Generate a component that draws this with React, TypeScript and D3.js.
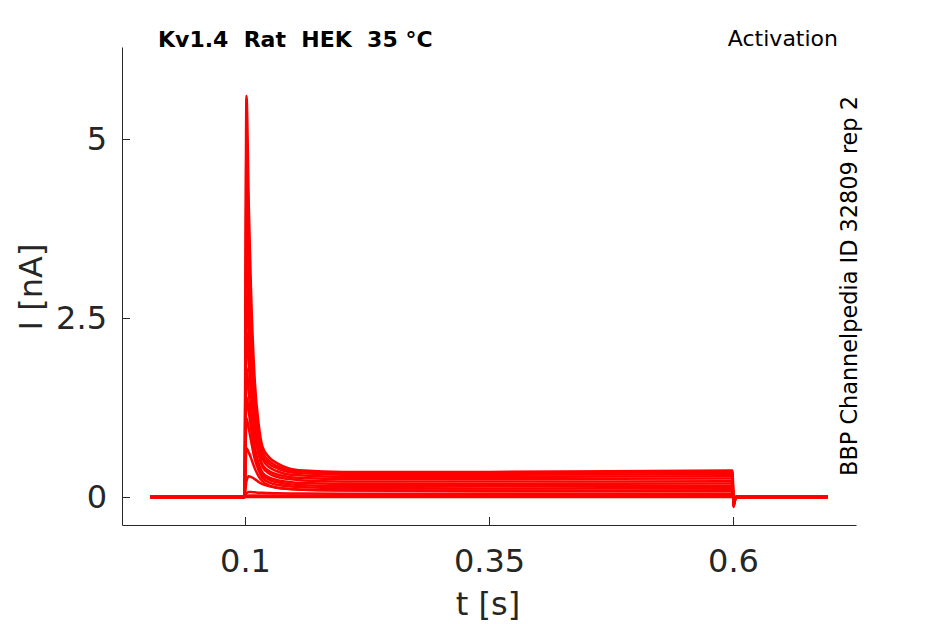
import { useRef, useEffect } from "react";
import * as d3 from "d3";

const width = 945;
const height = 624;

// sample times (s) shared by every sweep
const TIMES = [
  0.003, 0.0995, 0.1015, 0.104, 0.106, 0.11, 0.114, 0.118, 0.125, 0.133,
  0.145, 0.16, 0.2, 0.35, 0.5995, 0.6005, 0.603, 0.697,
];

// current (nA) of each sweep at TIMES
const SWEEP_1 = [0, 0, 5.6, 4.02, 2.97, 1.63, 1.02, 0.7, 0.55, 0.47, 0.4, 0.37, 0.35, 0.35, 0.37, -0.14, 0, 0];
const SWEEP_2 = [0, 0, 4.9, 3.53, 2.61, 1.44, 0.92, 0.63, 0.5, 0.43, 0.375, 0.355, 0.33, 0.33, 0.35, -0.13, 0, 0];
const SWEEP_3 = [0, 0, 4.2, 3.03, 2.25, 1.26, 0.81, 0.57, 0.46, 0.4, 0.35, 0.33, 0.31, 0.31, 0.32, -0.12, 0, 0];
const SWEEP_4 = [0, 0, 3.5, 2.66, 2.05, 1.17, 0.75, 0.53, 0.415, 0.36, 0.315, 0.3, 0.28, 0.28, 0.29, -0.11, 0, 0];
const SWEEP_5 = [0, 0, 2.9, 2.21, 1.7, 0.98, 0.64, 0.45, 0.36, 0.315, 0.28, 0.265, 0.25, 0.25, 0.26, -0.1, 0, 0];
const SWEEP_6 = [0, 0, 2.3, 1.84, 1.46, 0.88, 0.59, 0.42, 0.325, 0.28, 0.25, 0.23, 0.215, 0.215, 0.22, -0.09, 0, 0];
const SWEEP_7 = [0, 0, 1.8, 1.44, 1.15, 0.7, 0.47, 0.34, 0.27, 0.235, 0.21, 0.195, 0.185, 0.18, 0.19, -0.08, 0, 0];
const SWEEP_8 = [0, 0, 1.4, 1.18, 0.98, 0.63, 0.425, 0.31, 0.24, 0.205, 0.18, 0.165, 0.155, 0.15, 0.155, -0.07, 0, 0];
const SWEEP_9 = [0, 0, 1.1, 0.95, 0.8, 0.53, 0.37, 0.27, 0.2, 0.17, 0.15, 0.135, 0.125, 0.12, 0.125, -0.06, 0, 0];
const SWEEP_10 = [0, 0, 0.68, 0.62, 0.55, 0.4, 0.29, 0.22, 0.16, 0.13, 0.115, 0.1, 0.095, 0.09, 0.095, -0.05, 0, 0];
const SWEEP_11 = [0, 0, 0.22, 0.29, 0.28, 0.25, 0.21, 0.18, 0.15, 0.13, 0.11, 0.1, 0.09, 0.08, 0.08, -0.04, 0, 0];
const SWEEP_12 = [0, 0, 0.05, 0.07, 0.07, 0.065, 0.06, 0.058, 0.055, 0.052, 0.05, 0.048, 0.045, 0.045, 0.045, -0.03, 0, 0];
const SWEEP_13 = [0, 0, 0.01, 0.02, 0.02, 0.02, 0.02, 0.02, 0.02, 0.02, 0.02, 0.02, 0.02, 0.02, 0.02, -0.02, 0, 0];
const SWEEP_14 = [0, 0, 0, 0, 0, 0, 0, 0, 0, 0, 0, 0, 0, 0, 0, -0.01, 0, 0];

const SWEEPS = [
  SWEEP_1, SWEEP_2, SWEEP_3, SWEEP_4, SWEEP_5, SWEEP_6, SWEEP_7,
  SWEEP_8, SWEEP_9, SWEEP_10, SWEEP_11, SWEEP_12, SWEEP_13, SWEEP_14,
];

const X_TICKS = [0.1, 0.35, 0.6];
const Y_TICKS = [0, 2.5, 5];

const TITLE = "Kv1.4  Rat  HEK  35 °C";
const PROTOCOL = "Activation";
const SIDE_LABEL = "BBP Channelpedia ID 32809 rep 2";

const AXIS_COLOR = "#262626";
const FONT = "DejaVu Sans, sans-serif";

export default function App() {
  const ref = useRef<SVGSVGElement | null>(null);

  useEffect(() => {
    const svg = d3.select(ref.current);
    svg.selectAll("*").remove();

    const x = d3.scaleLinear().domain([-0.026, 0.726]).range([122, 856]);
    const y = d3.scaleLinear().domain([-0.391, 6.285]).range([525, 47]);

    const line = d3
      .line<number>()
      .x((_, i) => x(TIMES[i]))
      .y((d) => y(d))
      .curve(d3.curveMonotoneX);

    svg
      .append("g")
      .selectAll("path")
      .data(SWEEPS)
      .join("path")
      .attr("fill", "none")
      .attr("stroke", "#ff0000")
      .attr("stroke-width", 2.5)
      .attr("stroke-linejoin", "round")
      .attr("d", (d) => line(d));

    const yAxis = svg
      .append("g")
      .attr("transform", "translate(122,0)")
      .call(
        d3
          .axisLeft(y)
          .tickValues(Y_TICKS)
          .tickFormat((d) => String(d))
          .tickSizeInner(-8)
          .tickSizeOuter(0)
          .tickPadding(15)
      );

    const xAxis = svg
      .append("g")
      .attr("transform", "translate(0,525)")
      .call(
        d3
          .axisBottom(x)
          .tickValues(X_TICKS)
          .tickFormat((d) => String(d))
          .tickSizeInner(-8)
          .tickSizeOuter(0)
          .tickPadding(24)
      );

    [xAxis, yAxis].forEach((g) => {
      g.select(".domain").attr("stroke", AXIS_COLOR);
      g.selectAll(".tick line").attr("stroke", AXIS_COLOR);
      g.selectAll(".tick text")
        .attr("fill", AXIS_COLOR)
        .attr("font-family", FONT)
        .attr("font-size", 32);
    });

    svg
      .append("text")
      .attr("x", 488)
      .attr("y", 615)
      .attr("text-anchor", "middle")
      .attr("font-family", FONT)
      .attr("font-size", 32)
      .attr("fill", AXIS_COLOR)
      .text("t [s]");

    svg
      .append("text")
      .attr("transform", "translate(42,287) rotate(-90)")
      .attr("text-anchor", "middle")
      .attr("font-family", FONT)
      .attr("font-size", 32)
      .attr("fill", AXIS_COLOR)
      .text("I [nA]");

    svg
      .append("text")
      .attr("x", 158)
      .attr("y", 47)
      .attr("font-family", FONT)
      .attr("font-weight", "bold")
      .attr("font-size", 22)
      .attr("fill", "#000")
      .style("white-space", "pre")
      .text(TITLE);

    svg
      .append("text")
      .attr("x", 838)
      .attr("y", 46)
      .attr("text-anchor", "end")
      .attr("font-family", FONT)
      .attr("font-size", 22)
      .attr("fill", "#000")
      .text(PROTOCOL);

    svg
      .append("text")
      .attr("transform", "translate(857,286) rotate(-90)")
      .attr("text-anchor", "middle")
      .attr("font-family", FONT)
      .attr("font-size", 22.4)
      .attr("fill", "#000")
      .text(SIDE_LABEL);
  }, []);

  return (
    <svg
      ref={ref}
      width={width}
      height={height}
      viewBox={`0 0 ${width} ${height}`}
      style={{ position: "absolute", left: 0, top: 0, background: "#fff" }}
    />
  );
}
